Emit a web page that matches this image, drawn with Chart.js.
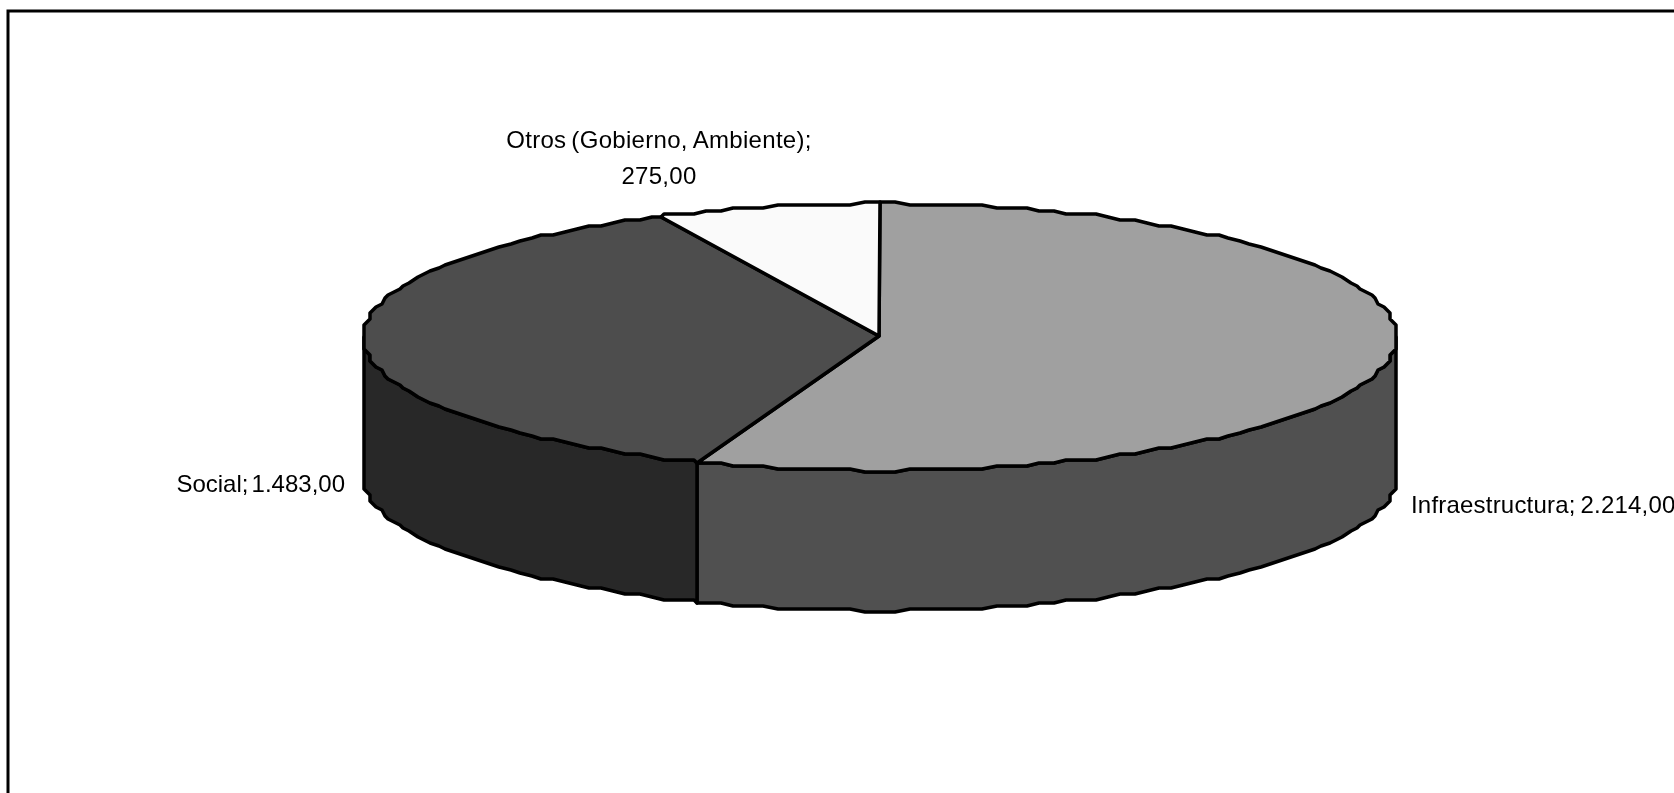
<!DOCTYPE html>
<html>
<head>
<meta charset="utf-8">
<title>Pie 3D</title>
<script src="https://cdn.jsdelivr.net/npm/chart.js@4"></script>
<style>
    html, body { margin: 0; padding: 0; background: #fff; overflow: hidden; }
    canvas { display: block; }
</style>
</head>
<body>
<canvas id="pieChart" width="1674" height="793"></canvas>
<script>
const categories = ["Infraestructura", "Social", "Otros (Gobierno, Ambiente)"];
const amounts = [2214, 1483, 275];
const topColors = ["#a0a0a0", "#4d4d4d", "#fafafa"];
const sideColors = ["#505050", "#282828", "#808080"];

// where the value labels sit, spacing tuned per label
const labelSpots = [
    { x: 1411, y: 513, align: "left", wrap: false, letters: 0.2, words: -2 },
    { x: 345, y: 492, align: "right", wrap: false, letters: 0, words: -3.5 },
    { x: 659, y: 148, align: "center", wrap: true, letters: 0.3, words: -2 }
];

const stretchX = 518 / 336;   // chart.js gives radius 336, the tilted disc is wider
const tiltY = 134 / 336;
const depth = 140;
const snap = 3;               // old printer look, outline sits on a coarse grid
const sampleStep = Math.PI / 110;

function snapped(v) {
    return Math.round(v / snap) * snap + 1;
}

// angle is clockwise from the top of the pie
function rimPoint(arc, angle, drop) {
    return {
        x: snapped(arc.x + Math.sin(angle) * arc.outerRadius * stretchX),
        y: snapped(arc.y - Math.cos(angle) * arc.outerRadius * tiltY) + drop
    };
}

function rimPoints(arc, from, to, drop) {
    const pts = [rimPoint(arc, from, drop)];
    let a = (Math.floor(from / sampleStep) + 1) * sampleStep;
    while (a < to) {
        pts.push(rimPoint(arc, a, drop));
        a += sampleStep;
    }
    pts.push(rimPoint(arc, to, drop));
    return pts;
}

function tracePolygon(ctx, pts, fill) {
    ctx.beginPath();
    pts.forEach((p, i) => {
        if (i === 0) ctx.moveTo(p.x, p.y);
        else ctx.lineTo(p.x, p.y);
    });
    ctx.closePath();
    ctx.fillStyle = fill;
    ctx.fill();
    ctx.stroke();
}

const tiltedPie = {
    id: "tiltedPie",
    beforeDraw(chart) {
        const ctx = chart.ctx;
        ctx.save();
        ctx.strokeStyle = "#000";
        ctx.lineWidth = 3;
        ctx.beginPath();
        ctx.moveTo(8, chart.height);
        ctx.lineTo(8, 11);
        ctx.lineTo(chart.width, 11);
        ctx.stroke();
        ctx.restore();
    },
    beforeDatasetDraw(chart, args) {
        const ctx = chart.ctx;
        const arcs = chart.getDatasetMeta(args.index).data;
        const offset = Math.PI / 2;   // chart.js angles start at 3 o'clock

        ctx.save();
        ctx.strokeStyle = "#000";
        ctx.lineWidth = 3.5;
        ctx.lineJoin = "round";

        // front wall, only the part between 3 and 9 o'clock can be seen
        arcs.forEach((arc, i) => {
            const from = Math.max(arc.startAngle + offset, Math.PI / 2);
            const to = Math.min(arc.endAngle + offset, Math.PI * 1.5);
            if (from >= to) return;
            const upper = rimPoints(arc, from, to, 0);
            const lower = rimPoints(arc, from, to, depth).reverse();
            tracePolygon(ctx, upper.concat(lower), sideColors[i]);
        });

        // top of the disc
        arcs.forEach((arc, i) => {
            const rim = rimPoints(arc, arc.startAngle + offset, arc.endAngle + offset, 0);
            tracePolygon(ctx, [{ x: arc.x, y: arc.y }].concat(rim), topColors[i]);
        });

        ctx.restore();
        return false;
    },
    afterDraw(chart) {
        const ctx = chart.ctx;
        ctx.save();
        ctx.font = '24px "Liberation Sans", Arial, sans-serif';
        ctx.fillStyle = "#000";
        categories.forEach((name, i) => {
            const spot = labelSpots[i];
            const amount = amounts[i].toLocaleString("de-DE", { minimumFractionDigits: 2 });
            ctx.textAlign = spot.align;
            ctx.letterSpacing = spot.letters + "px";
            ctx.wordSpacing = spot.words + "px";
            if (spot.wrap) {
                ctx.fillText(name + ";", spot.x, spot.y);
                ctx.fillText(amount, spot.x, spot.y + 36);
            } else {
                ctx.fillText(name + "; " + amount, spot.x, spot.y);
            }
        });
        ctx.restore();
    }
};

new Chart(document.getElementById("pieChart").getContext("2d"), {
    type: "pie",
    data: {
        labels: categories,
        datasets: [{
            data: amounts,
            backgroundColor: topColors
        }]
    },
    plugins: [tiltedPie],
    options: {
        responsive: false,
        animation: false,
        devicePixelRatio: 1,
        events: [],
        layout: {
            padding: { left: 84, right: 0, top: 0, bottom: 121 }
        },
        plugins: {
            legend: { display: false },
            tooltip: { enabled: false },
            title: { display: false }
        }
    }
});
</script>
</body>
</html>
